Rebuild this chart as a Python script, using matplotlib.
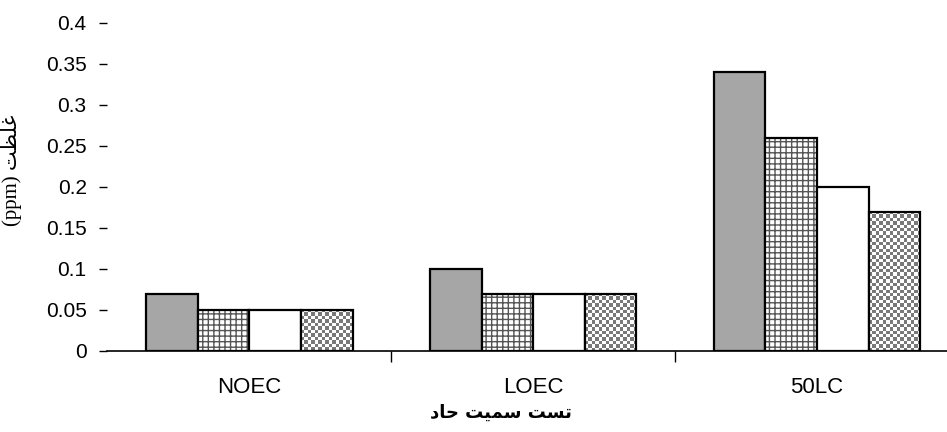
import numpy as np
import matplotlib.pyplot as plt

categories = ["NOEC", "LOEC", "50LC"]
series_a = [0.07, 0.10, 0.34]   # solid gray
series_b = [0.05, 0.07, 0.26]   # grid hatch
series_c = [0.05, 0.07, 0.20]   # white
series_d = [0.05, 0.07, 0.17]   # checker

# Persian labels, pre-shaped (presentation forms, visual order)
xlabel_fa = "\uFEA9\uFE8E\uFEA3 \uFE96\uFEF4\uFEE4\uFEB3 \uFE96\uFEB4\uFE97"   # تست سمیت حاد
ylabel_fa = "(ppm) \uFE96\uFEC8\uFEE0\uFECF"                                   # غلظت (ppm)

plt.rcParams['font.family'] = ['Liberation Sans', 'DejaVu Sans']

fig = plt.figure(figsize=(9.47, 4.32), dpi=100)
ax = fig.add_axes([0.1135, 0.1875, 0.899, 0.7593])

x = np.arange(len(categories))
w = 0.182
lw = 1.6

ax.bar(x - 1.5 * w, series_a, w, color="#a6a6a6", edgecolor="black", linewidth=lw)

ax.bar(x - 0.5 * w, series_b, w, color="white", edgecolor="#555555", hatch="+++", linewidth=0)
ax.bar(x - 0.5 * w, series_b, w, fill=False, edgecolor="black", linewidth=lw)

ax.bar(x + 0.5 * w, series_c, w, color="white", edgecolor="black", linewidth=lw)

bars_d = ax.bar(x + 1.5 * w, series_d, w, facecolor="none", edgecolor="black", linewidth=lw, zorder=3)

ax.set_xlim(-0.5, 2.5)
ax.set_ylim(0, 0.4)

# checkerboard fill for the last series, sized to each bar
fig.canvas.draw()
cell = 3.4
for b in bars_d:
    ext = b.get_window_extent()
    nx = max(1, int(round(ext.width / cell)))
    ny = max(1, int(round(ext.height / cell)))
    board = (np.add.outer(np.arange(ny), np.arange(nx)) % 2).astype(float)
    ax.imshow(board, cmap="gray", vmin=-0.9, vmax=1.0, interpolation="nearest",
              extent=(b.get_x(), b.get_x() + b.get_width(), 0, b.get_height()),
              aspect="auto", zorder=2)
ax.set_xlim(-0.5, 2.5)
ax.set_ylim(0, 0.4)

ax.set_yticks(np.arange(0, 0.41, 0.05))
ax.set_yticklabels(["0", "0.05", "0.1", "0.15", "0.2", "0.25", "0.3", "0.35", "0.4"])
ax.set_xticks(x)
ax.set_xticklabels(categories)
ax.set_xticks([0.5, 1.5], minor=True)
ax.tick_params(axis="x", which="major", length=0, pad=19, labelsize=16)
ax.tick_params(axis="x", which="minor", length=8, width=1, direction="out")
ax.tick_params(axis="y", length=6, width=1, direction="out", pad=9, labelsize=15)

for s in ["top", "right", "left"]:
    ax.spines[s].set_visible(False)
ax.spines["bottom"].set_linewidth(1.2)

ax.set_xlabel(xlabel_fa, fontsize=13, family=["DejaVu Sans"], fontweight="bold")
ax.xaxis.set_label_coords(0.462, -0.16)
ax.set_ylabel(ylabel_fa, fontsize=15, family=["Liberation Serif", "DejaVu Sans"])
ax.yaxis.set_label_coords(-0.1, 0.55)

fig.savefig("out.png", dpi=100)
